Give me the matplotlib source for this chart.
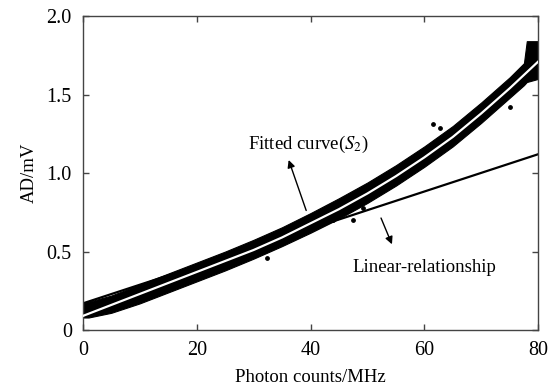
import numpy as np
import matplotlib
matplotlib.use('Agg')
import matplotlib.pyplot as plt

plt.rcParams['font.family'] = ['Liberation Serif', 'DejaVu Serif']
plt.rcParams['mathtext.fontset'] = 'stix'

# fitted curve (S2)
fit_x = [0, 5, 10, 15, 20, 25, 30, 35, 40, 45, 50, 55, 60, 65, 70, 75, 80]
fit_y = [0.09, 0.16, 0.23, 0.30, 0.37, 0.44, 0.51, 0.59, 0.68, 0.77, 0.87,
         0.98, 1.10, 1.23, 1.38, 1.54, 1.71]

# envelope of the measured point cloud
band_x = [0, 1, 5, 10, 15, 20, 25, 30, 35, 40, 45, 50, 55, 60, 65, 70, 75,
          77.5, 78, 80]
band_hi = [0.17, 0.18, 0.22, 0.29, 0.36, 0.43, 0.50, 0.575, 0.655, 0.745,
           0.84, 0.94, 1.05, 1.17, 1.30, 1.45, 1.61, 1.70, 1.84, 1.84]
band_lo = [0.08, 0.08, 0.11, 0.17, 0.24, 0.31, 0.38, 0.455, 0.535, 0.62,
           0.71, 0.81, 0.92, 1.04, 1.17, 1.32, 1.48, 1.56, 1.58, 1.60]

# a few stray points outside the cloud
stray_x = [32.3, 49.2, 47.5, 61.5, 62.7, 75.0, 44.0]
stray_y = [0.46, 0.78, 0.70, 1.31, 1.29, 1.42, 0.70]

# linear relationship
lin_x = [0, 80]
lin_y = [0.17, 1.12]

fig = plt.figure(figsize=(5.6, 3.92), dpi=100)
ax = fig.add_axes([0.148, 0.158, 0.813, 0.801])

ax.plot(lin_x, lin_y, color='black', lw=1.6, zorder=1)
ax.fill_between(band_x, band_lo, band_hi, color='black', lw=0.8,
                edgecolor='black', zorder=2)
ax.scatter(stray_x, stray_y, s=6, color='black', zorder=2)
ax.plot(fit_x, fit_y, color='white', lw=1.6, zorder=3)

arrow = dict(arrowstyle='-|>', color='black', lw=1, mutation_scale=11)
ax.annotate('', xy=(36.0, 1.10), xytext=(39.4, 0.745), arrowprops=arrow,
            zorder=4)
ax.text(29.0, 1.18, 'Fitted curve($S_2$)', fontsize=13.5, va='center',
        ha='left')
ax.annotate('', xy=(54.5, 0.53), xytext=(52.2, 0.73), arrowprops=arrow,
            zorder=4)
ax.text(47.3, 0.40, 'Linear-relationship', fontsize=13.5, va='center',
        ha='left')

ax.set_xlim(0, 80)
ax.set_ylim(0, 2.0)
ax.set_xticks([0, 20, 40, 60, 80])
ax.set_yticks([0, 0.5, 1.0, 1.5, 2.0])
ax.set_yticklabels(['0', '0.5', '1.0', '1.5', '2.0'])
ax.tick_params(direction='in', length=4, width=1, labelsize=14.5, pad=8,
               top=True, right=True, color='#444444')
for s in ax.spines.values():
    s.set_color('#444444')
    s.set_linewidth(1)

ax.set_xlabel('Photon counts/MHz', fontsize=13.5, labelpad=6)
ax.set_ylabel('AD/mV', fontsize=13.5, labelpad=6)

fig.savefig('out.png', dpi=100)
